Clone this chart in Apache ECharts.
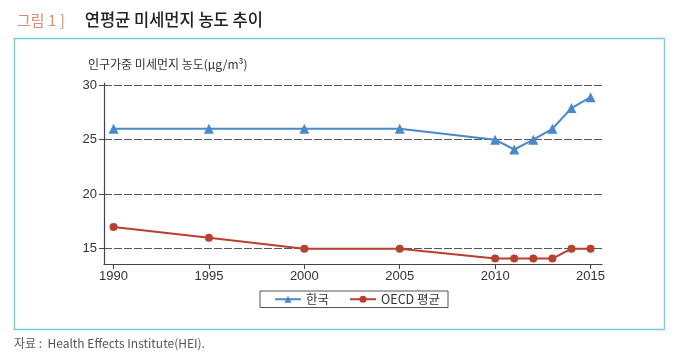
<!DOCTYPE html>
<html>
<head>
<meta charset="utf-8">
<script src="https://cdn.jsdelivr.net/npm/echarts@6/dist/echarts.min.js"></script>
<style>
  html, body { margin: 0; padding: 0; background: #fff; }
  #chart { width: 680px; height: 358px; }
</style>
</head>
<body>
<div id="chart"></div>
<script>
const years = [1990, 1995, 2000, 2005, 2010, 2011, 2012, 2013, 2014, 2015];
const korea = [26.0, 26.0, 26.0, 26.0, 25.0, 24.1, 25.0, 26.0, 27.9, 28.9];
const oecd = [17.0, 16.0, 15.0, 15.0, 14.1, 14.1, 14.1, 14.1, 15.0, 15.0];
const xTicks = [1990, 1995, 2000, 2005, 2010, 2015];
const yTicks = [15, 20, 25, 30];

const KR = '"Noto Sans CJK KR", "Noto Sans", sans-serif';
const NUM = '"Liberation Sans Narrow", "Liberation Sans", Arial, sans-serif';

const chart = echarts.init(document.getElementById("chart"), null, { renderer: "canvas" });

const option = {
  animation: false,
  title: {
    left: 12,
    top: 6,
    text: "{a|그림 1 ]}  {b|연평균 미세먼지 농도 추이}",
    textStyle: {
      rich: {
        a: { fontFamily: KR, fontSize: 15, color: "#e0896a", fontWeight: "normal", padding: [0, 10, 0, 0] },
        b: { fontFamily: KR, fontSize: 16.5, color: "#222", fontWeight: 500 },
      },
    },
  },
  graphic: [
    {
      type: "rect",
      shape: { x: 14.5, y: 38.5, width: 650, height: 291 },
      style: { fill: "none", stroke: "#74d0d6", lineWidth: 1.5 },
      silent: true,
    },
    {
      type: "text",
      left: 88,
      top: 58,
      style: { text: "인구가중 미세먼지 농도(μg/m³)", font: "12px " + KR, fill: "#333" },
    },
    {
      type: "text",
      left: 14,
      top: 337,
      style: { text: "자료 :  Health Effects Institute(HEI).", font: "12px " + KR, fill: "#555" },
    },
  ],
  legend: {
    left: 260,
    top: 291,
    itemGap: 20,
    itemWidth: 26,
    itemHeight: 9,
    padding: [2, 8, 2, 14],
    borderColor: "#555",
    borderWidth: 1,
    borderRadius: 0,
    textStyle: { fontFamily: KR, fontSize: 12.5, color: "#333" },
    data: ["한국", "OECD 평균"],
  },
  grid: { left: 104, right: 78, top: 83, bottom: 94 },
  xAxis: {
    type: "value",
    min: 1989.5,
    max: 2015.6,
    axisLine: { show: true, lineStyle: { color: "#444", width: 1.2 } },
    axisTick: { show: true, length: 5, customValues: xTicks, lineStyle: { color: "#444" } },
    axisLabel: {
      customValues: xTicks,
      formatter: (v) => String(v),
      fontFamily: NUM,
      fontSize: 13,
      color: "#333",
      margin: 6,
    },
    splitLine: { show: false },
  },
  yAxis: {
    type: "value",
    min: 13.6,
    max: 30.2,
    axisLine: { show: true, lineStyle: { color: "#444", width: 1.2 } },
    axisTick: { show: true, length: 5, customValues: yTicks, lineStyle: { color: "#444" } },
    axisLabel: {
      customValues: yTicks,
      fontFamily: NUM,
      fontSize: 13,
      color: "#333",
      margin: 7,
    },
    splitLine: {
      show: true,
      lineStyle: { color: "#555", type: [8, 2], width: 1 },
    },
  },
  series: [
    {
      name: "한국",
      type: "line",
      data: years.map((y, i) => [y, korea[i]]),
      symbol: "triangle",
      symbolSize: 10,
      color: "#4a88cc",
      lineStyle: { width: 2 },
    },
    {
      name: "OECD 평균",
      type: "line",
      data: years.map((y, i) => [y, oecd[i]]),
      symbol: "circle",
      symbolSize: 8,
      color: "#b8402f",
      lineStyle: { width: 2 },
    },
  ],
};

chart.setOption(option);
</script>
</body>
</html>
